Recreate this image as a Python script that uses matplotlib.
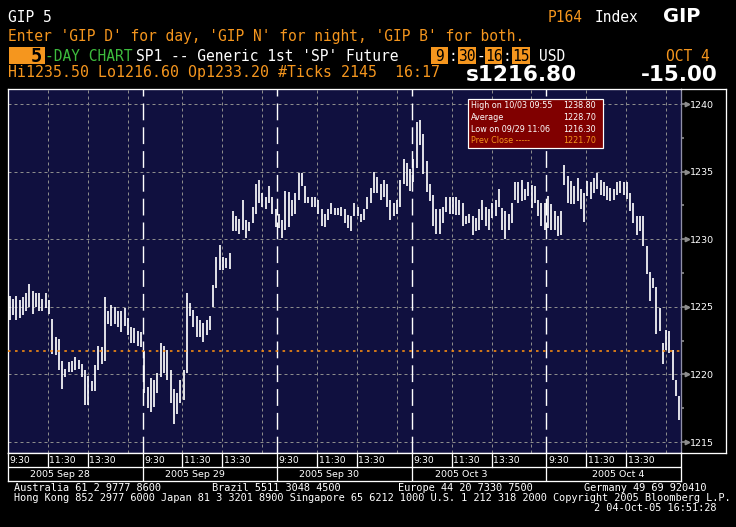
import matplotlib
matplotlib.use('Agg')
import matplotlib.pyplot as plt
from matplotlib.lines import Line2D
from matplotlib.patches import Rectangle
from matplotlib.transforms import offset_copy, blended_transform_factory
import numpy as np

W, H, DPI = 736, 527, 100

# ---------------- data ----------------
day_labels = ['2005 Sep 28', '2005 Sep 29', '2005 Sep 30', '2005 Oct 3', '2005 Oct 4']
time_labels = ['9:30', '11:30', '13:30']
time_label_minutes = [0, 120, 240]
grid_minutes = [120, 240, 360]
session_minutes = 405  # 9:30 - 16:15

high_sep28 = [1225.8, 1225.6, 1225.8, 1225.5, 1225.7, 1226.0, 1226.7, 1226.2, 1226.0, 1226.0,
              1225.6, 1226.0, 1225.5, 1224.1, 1222.8, 1222.6, 1221.0, 1220.4, 1220.9, 1221.0,
              1221.3, 1221.1, 1220.8, 1220.3, 1219.9, 1219.5, 1220.7, 1222.1, 1222.0, 1225.7,
              1224.7, 1225.1, 1225.0, 1224.7, 1224.7, 1224.9, 1224.2, 1223.5, 1223.4, 1223.2, 1223.1]
low_sep28 = [1224.0, 1224.4, 1224.0, 1224.2, 1224.4, 1224.7, 1225.0, 1224.5, 1225.0, 1224.7,
             1224.7, 1224.9, 1224.5, 1221.5, 1221.4, 1220.3, 1218.9, 1219.8, 1220.2, 1220.2,
             1220.3, 1220.4, 1219.8, 1217.7, 1217.7, 1218.8, 1218.8, 1220.3, 1220.8, 1221.0,
             1223.7, 1223.6, 1223.7, 1223.5, 1223.1, 1223.6, 1222.9, 1222.3, 1222.3, 1222.1, 1222.0]

high_sep29 = [1221.7, 1219.1, 1219.7, 1219.6, 1220.1, 1222.3, 1222.1, 1221.8, 1220.3, 1218.9,
              1218.6, 1219.6, 1220.3, 1226.0, 1225.3, 1224.8, 1224.3, 1224.0, 1223.8, 1224.0,
              1224.3, 1226.6, 1228.7, 1229.6, 1228.7, 1228.6, 1229.0, 1232.1, 1231.7, 1231.5,
              1232.9, 1231.4, 1231.3, 1232.4, 1234.1, 1234.4, 1233.4, 1233.1, 1233.9, 1233.1, 1232.2]
low_sep29 = [1218.6, 1217.5, 1217.2, 1217.6, 1218.6, 1219.8, 1220.1, 1219.6, 1217.9, 1216.3,
             1217.1, 1217.9, 1218.1, 1220.1, 1224.3, 1223.5, 1222.8, 1222.8, 1222.4, 1222.9,
             1223.3, 1225.0, 1226.4, 1227.7, 1227.7, 1227.9, 1227.8, 1230.6, 1230.6, 1230.4,
             1230.7, 1230.1, 1230.6, 1231.2, 1231.9, 1232.7, 1232.4, 1232.2, 1232.7, 1231.9, 1230.9]

high_sep30 = [1231.9, 1231.4, 1233.6, 1233.5, 1232.9, 1233.4, 1234.9, 1234.9, 1233.9, 1233.1,
              1233.1, 1233.1, 1232.9, 1232.2, 1231.9, 1232.2, 1232.7, 1232.3, 1232.3, 1232.4,
              1232.2, 1231.8, 1231.7, 1232.7, 1232.4, 1231.9, 1232.2, 1233.1, 1233.8, 1235.0,
              1234.6, 1234.1, 1234.4, 1234.1, 1232.9, 1232.7, 1232.9, 1234.4, 1235.9, 1235.6, 1235.2]
low_sep30 = [1230.8, 1230.1, 1230.7, 1230.9, 1231.7, 1231.9, 1232.9, 1233.9, 1232.7, 1232.7,
             1232.4, 1232.4, 1231.9, 1231.0, 1230.9, 1231.4, 1231.9, 1231.8, 1231.8, 1231.7,
             1231.2, 1230.8, 1230.6, 1231.7, 1231.7, 1231.3, 1231.4, 1232.2, 1232.7, 1233.4,
             1233.4, 1232.9, 1233.1, 1232.4, 1231.4, 1231.7, 1231.9, 1232.4, 1234.1, 1233.9, 1233.6]

high_oct3 = [1235.9, 1238.7, 1238.8, 1237.8, 1235.8, 1234.1, 1233.3, 1232.2, 1232.2, 1232.4,
             1233.1, 1233.1, 1233.1, 1233.1, 1232.9, 1232.7, 1231.7, 1231.9, 1231.7, 1231.6,
             1232.2, 1232.9, 1232.4, 1232.2, 1232.7, 1232.9, 1233.7, 1232.3, 1232.1, 1231.9,
             1232.7, 1234.2, 1234.2, 1234.4, 1233.7, 1234.2, 1234.0, 1233.9, 1232.9, 1232.7, 1232.7]
low_oct3 = [1234.2, 1235.3, 1237.0, 1234.8, 1233.5, 1232.8, 1231.0, 1230.4, 1230.4, 1231.2,
            1232.0, 1231.9, 1231.9, 1231.8, 1231.8, 1231.0, 1231.1, 1231.2, 1230.3, 1230.6,
            1230.7, 1231.4, 1231.0, 1230.7, 1231.6, 1231.7, 1232.4, 1230.7, 1230.0, 1230.7,
            1231.2, 1232.9, 1232.7, 1232.8, 1232.9, 1233.2, 1232.3, 1232.7, 1231.7, 1231.0, 1230.7]

high_oct4 = [1233.2, 1232.6, 1232.1, 1231.7, 1232.1, 1235.5, 1234.7, 1234.3, 1233.9, 1234.5,
             1233.7, 1233.4, 1234.3, 1234.2, 1234.5, 1234.9, 1234.4, 1234.2, 1233.9, 1233.8,
             1233.7, 1234.2, 1234.3, 1234.2, 1234.2, 1233.4, 1232.7, 1231.7, 1231.7, 1231.7,
             1229.5, 1227.6, 1227.1, 1226.5, 1224.9, 1222.3, 1223.3, 1223.2, 1221.8, 1219.6, 1218.4]
low_oct4 = [1230.8, 1230.7, 1230.7, 1230.2, 1230.3, 1234.0, 1232.7, 1232.6, 1232.6, 1232.8,
            1232.2, 1231.3, 1233.2, 1233.0, 1233.4, 1233.7, 1233.3, 1233.2, 1232.9, 1232.8,
            1232.9, 1233.3, 1233.4, 1233.3, 1233.0, 1232.1, 1231.2, 1230.3, 1230.6, 1229.5,
            1227.4, 1225.4, 1226.4, 1223.0, 1223.2, 1220.8, 1221.8, 1221.6, 1219.6, 1218.4, 1216.6]

highs = [high_sep28, high_sep29, high_sep30, high_oct3, high_oct4]
lows = [low_sep28, low_sep29, low_sep30, low_oct3, low_oct4]

prev_close = 1221.70
yticks = [1215, 1220, 1225, 1230, 1235, 1240]
info_labels = ['High on 10/03 09:55', 'Average', 'Low on 09/29 11:06', 'Prev Close -----']
info_values = ['1238.80', '1228.70', '1216.30', '1221.70']

# ---------------- style ----------------
BLACK = '#000000'
NAVY = '#10103f'
ORANGE = '#f5961e'
GREEN = '#3dbb3d'
GREY = '#8c8c8c'
WHITE = '#ffffff'
MONO = 'DejaVu Sans Mono'
SANS = 'DejaVu Sans'
PX = 72.0 / DPI  # points per pixel

fig = plt.figure(figsize=(W / DPI, H / DPI), dpi=DPI, facecolor=BLACK)


def fx(px):
    return px / W


def fy(py):
    return 1 - py / H


def ftext(px, py, s, **kw):
    fig.text(fx(px), fy(py), s, **kw)


def fline(xs, ys, **kw):
    fig.add_artist(Line2D([fx(x) for x in xs], [fy(y) for y in ys],
                          transform=fig.transFigure, **kw))


def fbox(x0, y0, x1, y1, **kw):
    fig.add_artist(Rectangle((fx(x0), fy(y1)), (x1 - x0) / W, (y1 - y0) / H,
                             transform=fig.transFigure, **kw))


# ---------------- main plot ----------------
L, R, T, B = 8, 681, 89, 453
ax = fig.add_axes([fx(L), fy(B), (R - L) / W, (B - T) / H])
ax.set_facecolor(NAVY)
ntot = session_minutes * len(day_labels)
ax.set_xlim(0, ntot)
# y: 1240 at pixel 104, 1215 at pixel 442
ppu = (442 - 104) / 25.0
ax.set_ylim(1240 - (B - 104) / ppu, 1240 + (104 - T) / ppu)

for yv in yticks:
    ax.axhline(yv, color=GREY, lw=PX, ls=(0, (3, 3)), zorder=1)
for d in range(len(day_labels)):
    for m in grid_minutes:
        ax.axvline(d * session_minutes + m, color=GREY, lw=PX, ls=(0, (3, 3)), zorder=1)
for d in range(1, len(day_labels)):
    ax.axvline(d * session_minutes, color=WHITE, lw=1.4 * PX, ls=(0, (12, 5)), zorder=2)

for d in range(len(day_labels)):
    n = len(highs[d])
    xs = d * session_minutes + 5 + np.arange(n) * (session_minutes - 10) / (n - 1)
    ax.vlines(xs, lows[d], highs[d], color=WHITE, lw=1.7 * PX, zorder=3)

ax.axhline(prev_close, color='#ff9010', lw=1.6 * PX, ls=(0, (1.6, 2.8)), zorder=4)

ax.set_xticks([])
ax.yaxis.tick_right()
ax.set_yticks(yticks)
ax.set_yticklabels([str(v) for v in yticks], fontsize=6.8, color=WHITE, family=SANS)
ax.set_yticks(np.arange(yticks[0] + 2.5, yticks[-1], 5), minor=True)
ax.tick_params(axis='y', which='major', direction='out', length=5.5, width=1.2,
               color=GREY, pad=1.2)
ax.tick_params(axis='y', which='minor', direction='out', length=2.5, width=1.2, color=GREY)
tri = offset_copy(blended_transform_factory(ax.transAxes, ax.transData), fig=fig,
                  x=5.5, y=0, units='dots')
ax.plot([1.0] * len(yticks), yticks, ls='none', marker='>', ms=3.2, color=GREY,
        transform=tri, clip_on=False, zorder=5)

for side in ['left', 'top', 'bottom']:
    ax.spines[side].set_color(WHITE)
    ax.spines[side].set_linewidth(1.3 * PX)
ax.spines['right'].set_color('#9090a8')
ax.spines['right'].set_linewidth(1.3 * PX)

# right axis box
fline([R, 726], [T, T], color=WHITE, lw=1.3 * PX)
fline([726, 726], [T, B], color=WHITE, lw=1.3 * PX)
fline([R, 726], [B, B], color=WHITE, lw=1.3 * PX)

# ---------------- time / date band ----------------
band = fig.add_axes([fx(L), fy(481), (R - L) / W, (481 - B) / H])
band.set_facecolor(BLACK)
band.set_xlim(0, ntot)
band.set_ylim(0, 2)
band.set_xticks([])
band.set_yticks([])
for s in band.spines.values():
    s.set_color(WHITE)
    s.set_linewidth(1.3 * PX)
band.axhline(1, color=WHITE, lw=1.3 * PX)
for d in range(1, len(day_labels)):
    band.axvline(d * session_minutes, color=WHITE, lw=1.3 * PX)
tlab = offset_copy(band.transData, fig=fig, x=1.5, y=0, units='dots')
date_offsets = [156, 158, 156, 150, 217]
for d in range(len(day_labels)):
    for m, lab in zip(time_label_minutes, time_labels):
        xx = d * session_minutes + m
        if m > 0:
            band.plot([xx, xx], [1, 2], color=WHITE, lw=1.3 * PX)
        band.text(xx, 1.48, lab, transform=tlab, color=WHITE, fontsize=6.7,
                  family=SANS, ha='left', va='center')
    band.text(d * session_minutes + date_offsets[d], 0.48, day_labels[d], color=WHITE,
              fontsize=6.8, family=SANS, ha='center', va='center')

# ---------------- info box ----------------
fbox(468.3, 99.3, 602.7, 148.3, facecolor='#800000', edgecolor=WHITE, lw=1.2 * PX, zorder=10)
for k, (lab, val) in enumerate(zip(info_labels, info_values)):
    col = ORANGE if k == 3 else WHITE
    yb = 108.4 + k * 11.7
    ftext(471, yb, lab, color=col, fontsize=5.8, family=SANS, va='baseline', zorder=11)
    ftext(596, yb, val, color=col, fontsize=5.8, family=SANS, va='baseline', ha='right',
          zorder=11)

# ---------------- header ----------------
FS = 10.5
ftext(8, 21.7, 'GIP 5', color=WHITE, fontsize=FS, family=MONO, va='baseline')
ftext(548, 21.7, 'P164', color=ORANGE, fontsize=FS, family=MONO, va='baseline')
ftext(595, 21.7, 'Index', color=WHITE, fontsize=FS, family=MONO, va='baseline')
ftext(682, 21.7, 'GIP', color=WHITE, fontsize=14, family=SANS, weight='bold',
      va='baseline', ha='center')

ftext(8, 40.7, "Enter 'GIP D' for day, 'GIP N' for night, 'GIP B' for both.",
      color=ORANGE, fontsize=FS, family=MONO, va='baseline')

# row 3
fbox(8.5, 46.7, 44.6, 64, facecolor=ORANGE, edgecolor='none')
ftext(36, 61.7, '5', color=BLACK, fontsize=13.5, family=MONO, weight='bold',
      va='baseline', ha='center')
ftext(45, 60.7, '-DAY CHART', color=GREEN, fontsize=FS, family=MONO, va='baseline')
ftext(136, 60.7, "SP1 -- Generic 1st 'SP' Future", color=WHITE, fontsize=FS,
      family=MONO, va='baseline')
time_boxes = [('9', 431, 448), ('30', 458, 476), ('16', 485, 502), ('15', 512, 530)]
for s, x0, x1 in time_boxes:
    fbox(x0, 46.7, x1, 64, facecolor=ORANGE, edgecolor='none')
    ftext((x0 + x1) / 2, 60.7, s, color=BLACK, fontsize=FS, family=MONO,
          va='baseline', ha='center')
for s, xc in [(':', 453), ('-', 480.5), (':', 507)]:
    ftext(xc, 60.7, s, color=WHITE, fontsize=FS, family=MONO, va='baseline', ha='center')
ftext(539, 60.7, 'USD', color=WHITE, fontsize=FS, family=MONO, va='baseline')
ftext(666, 60.7, 'OCT 4', color=ORANGE, fontsize=FS, family=MONO, va='baseline')

# row 4
ftext(8, 77.3, 'Hi1235.50 Lo1216.60 Op1233.20 #Ticks 2145  16:17', color=ORANGE,
      fontsize=10.7, family=MONO, va='baseline')
ftext(521, 80.7, 's1216.80', color=WHITE, fontsize=15.5, family=SANS, weight='bold',
      va='baseline', ha='center')
ftext(679, 80.7, '-15.00', color=WHITE, fontsize=15.5, family=SANS, weight='bold',
      va='baseline', ha='center')

# ---------------- footer ----------------
FF = 7.4
ftext(14, 491.3, 'Australia 61 2 9777 8600', color=WHITE, fontsize=FF, family=MONO, va='baseline')
ftext(212, 491.3, 'Brazil 5511 3048 4500', color=WHITE, fontsize=FF, family=MONO, va='baseline')
ftext(398, 491.3, 'Europe 44 20 7330 7500', color=WHITE, fontsize=FF, family=MONO, va='baseline')
ftext(584, 491.3, 'Germany 49 69 920410', color=WHITE, fontsize=FF, family=MONO, va='baseline')
ftext(14, 501.3, 'Hong Kong 852 2977 6000 Japan 81 3 3201 8900 Singapore 65 6212 1000 '
      'U.S. 1 212 318 2000 Copyright 2005 Bloomberg L.P.', color=WHITE, fontsize=FF,
      family=MONO, va='baseline')
ftext(716, 511.3, '2 04-Oct-05 16:51:28', color=WHITE, fontsize=FF, family=MONO,
      va='baseline', ha='right')

fig.savefig('out.png', dpi=DPI, facecolor=BLACK)
